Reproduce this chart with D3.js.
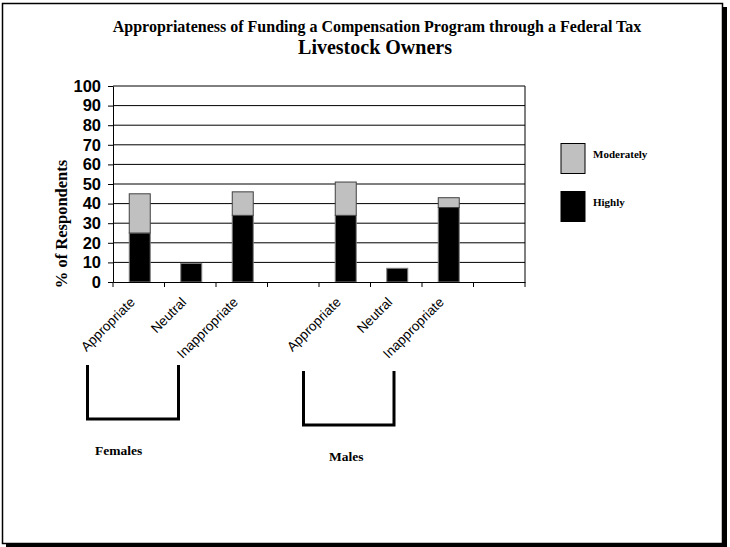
<!DOCTYPE html>
<html><head><meta charset="utf-8">
<script src="https://cdn.jsdelivr.net/npm/d3@7"></script>
<style>body{margin:0;background:#fff}svg{display:block}</style>
</head><body>
<script>
const categories = ["Appropriate","Neutral","Inappropriate","","Appropriate ","Neutral ","Inappropriate ",""+" "];
const highly = [25, 9.5, 34, 0, 34, 7, 38, 0];
const moderately = [20, 0, 12, 0, 17, 0, 5, 0];
const yTicks = [0,10,20,30,40,50,60,70,80,90,100];
const seriesNames = ["Moderately","Highly"];
const groups = ["Females","Males"];

const W=730,H=547;
const svg=d3.select("body").append("svg").attr("width",W).attr("height",H);

// border with shadow
svg.append("rect").attr("x",6).attr("y",7).attr("width",721).attr("height",540).attr("fill","#000");
svg.append("rect").attr("x",2.5).attr("y",3.5).attr("width",720).attr("height",540).attr("fill","#fff").attr("stroke","#000").attr("stroke-width",1.5);

const xb=d3.scaleBand().domain(categories).range([113,525]);
const y=d3.scaleLinear().domain([0,100]).range([282,86]);

// gridlines
svg.append("g").selectAll("line").data(yTicks.filter(t=>t>0)).join("line")
 .attr("x1",113).attr("x2",525).attr("y1",d=>y(d)).attr("y2",d=>y(d))
 .attr("stroke","#000").attr("stroke-width",1);
svg.append("line").attr("x1",525).attr("x2",525).attr("y1",y(100)).attr("y2",y(0)).attr("stroke","#000");

// bars
const stack=categories.map((c,i)=>({c,h:highly[i],m:moderately[i]}));
const bx=d=>xb(d.c)+xb.bandwidth()/2-9.5;
svg.append("g").selectAll("rect").data(stack.filter(d=>d.h>0)).join("rect")
 .attr("x",bx).attr("width",21).attr("y",d=>y(d.h)).attr("height",d=>y(0)-y(d.h))
 .attr("fill","#000").attr("stroke","#808080").attr("stroke-width",1);
svg.append("g").selectAll("rect").data(stack.filter(d=>d.m>0)).join("rect")
 .attr("x",bx).attr("width",21).attr("y",d=>y(d.h+d.m)).attr("height",d=>y(d.h)-y(d.h+d.m))
 .attr("fill","#c0c0c0").attr("stroke","#404040").attr("stroke-width",1);

// y axis
const ya=svg.append("g").attr("transform","translate(113,0)").call(d3.axisLeft(y).tickValues(yTicks).tickSize(5).tickSizeOuter(0));
ya.select(".domain").attr("stroke","#000");
ya.selectAll("text").attr("font-family","Liberation Sans, Arial, sans-serif").attr("font-weight","bold").attr("font-size",16.5).attr("fill","#000").attr("x",-12);

// x axis
const xa=svg.append("g").attr("transform","translate(0,282)").call(d3.axisBottom(xb).tickValues([]).tickSizeOuter(0));
xa.select(".domain").attr("stroke","#000");
svg.append("g").selectAll("line").data(d3.range(categories.length+1)).join("line")
 .attr("x1",i=>113+i*xb.step()).attr("x2",i=>113+i*xb.step()).attr("y1",282).attr("y2",287).attr("stroke","#000");
svg.append("g").selectAll("text").data(categories.filter(c=>c.trim()!=="")).join("text")
 .attr("transform",c=>`translate(${xb(c)+xb.bandwidth()/2-3},303) rotate(-45)`)
 .attr("text-anchor","end").attr("font-family","Liberation Sans, Arial, sans-serif").attr("font-size",13.5).text(c=>c.trim());

// y title
svg.append("text").attr("transform","translate(67,224) rotate(-90)").attr("text-anchor","middle")
 .attr("font-family","Liberation Serif, Times New Roman, serif").attr("font-weight","bold").attr("font-size",16.5).text("% of Respondents");

// titles
svg.append("text").attr("x",377).attr("y",31.5).attr("text-anchor","middle").attr("font-family","Liberation Serif, Times New Roman, serif").attr("font-weight","bold").attr("font-size",16).text("Appropriateness of Funding a Compensation Program through a Federal Tax");
svg.append("text").attr("x",375).attr("y",53.5).attr("text-anchor","middle").attr("font-family","Liberation Serif, Times New Roman, serif").attr("font-weight","bold").attr("font-size",20).text("Livestock Owners");

// legend
const lg=svg.append("g");
seriesNames.forEach((s,i)=>{
  lg.append("rect").attr("x",561).attr("y",143.5+i*48).attr("width",24).attr("height",30)
   .attr("fill",i===0?"#c0c0c0":"#000").attr("stroke","#000").attr("stroke-width",1);
  lg.append("text").attr("x",593).attr("y",157.5+i*48).attr("font-family","Liberation Serif, Times New Roman, serif").attr("font-weight","bold").attr("font-size",11).text(s);
});

// brackets
const br=[{x1:87.5,x2:178.5,y1:365,y2:419,tx:95,ty:455},{x1:303.5,x2:394,y1:371,y2:425,tx:329,ty:461}];
br.forEach((b,i)=>{
  svg.append("path").attr("d",`M${b.x1},${b.y1}V${b.y2}H${b.x2}V${b.y1}`).attr("fill","none").attr("stroke","#000").attr("stroke-width",3);
  svg.append("text").attr("x",b.tx).attr("y",b.ty).attr("font-family","Liberation Serif, Times New Roman, serif").attr("font-weight","bold").attr("font-size",13.5).text(groups[i]);
});
</script>
</body></html>
